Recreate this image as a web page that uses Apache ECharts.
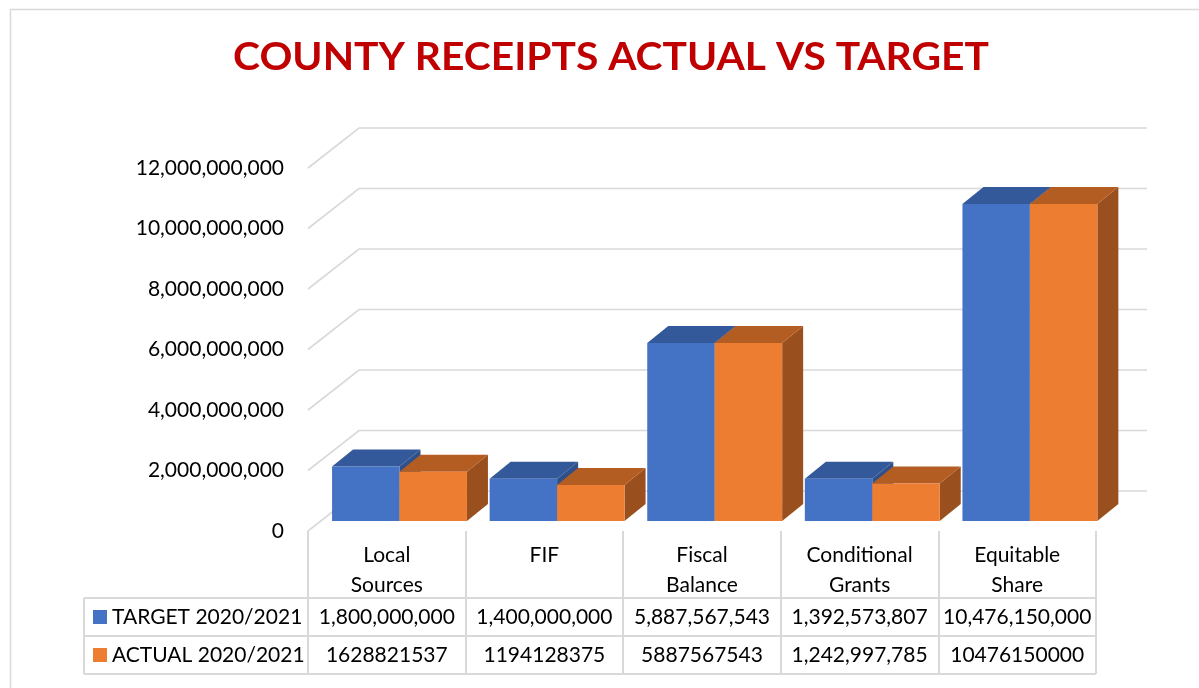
<!DOCTYPE html>
<html>
<head>
<meta charset="utf-8">
<title>County receipts</title>
<script src="https://cdn.jsdelivr.net/npm/echarts@6/dist/echarts.min.js"></script>
<style>
  html, body { margin: 0; padding: 0; background: #fff; }
  #chart { width: 1199px; height: 688px; }
</style>
</head>
<body>
<div id="chart"></div>
<script>
// chart data
const categories = ['Local\nSources', 'FIF', 'Fiscal\nBalance', 'Conditional\nGrants', 'Equitable\nShare'];
const targetValues = [1800000000, 1400000000, 5887567543, 1392573807, 10476150000];
const actualValues = [1628821537, 1194128375, 5887567543, 1242997785, 10476150000];
const seriesNames = ['TARGET 2020/2021', 'ACTUAL 2020/2021'];
const yTicks = [0, 2000000000, 4000000000, 6000000000, 8000000000, 10000000000, 12000000000];
// cells of the actual row that the sheet shows with separators
const actualCommaCells = [3];

const FONT = 'Lato, "Open Sans", sans-serif';
const GRID = { left: 308, top: 168, width: 788, height: 363 };
// depth of the plot box (front -> back wall) and of the bars
const WALL = [51, -40];
const BAR_OFF = [12.7, -10];
const BAR_DEPTH = [21, -17];

const colors = [
    { front: '#4472C4', top: '#34599A', side: '#2F5089' },
    { front: '#ED7D31', top: '#B45D22', side: '#9A4F1E' }
];

const fmt = v => v.toLocaleString('en-US');

function wallItem(params, api) {
    const cs = params.coordSys;
    const y = api.coord([0, api.value(1)])[1];
    return {
        type: 'polyline',
        shape: { points: [[cs.x, y], [cs.x + WALL[0], y + WALL[1]], [cs.x + cs.width + WALL[0], y + WALL[1]]] },
        style: { stroke: '#d9d9d9', lineWidth: 1.6, fill: null }
    };
}

function barItem(s) {
    return function (params, api) {
        const base = api.coord([api.value(0), 0]);
        const top = api.coord([api.value(0), api.value(1)]);
        const band = api.size([1, 0])[0];
        const w = band * 0.428;
        const x0 = base[0] + BAR_OFF[0] - w + s * w;
        const x1 = x0 + w;
        const yb = base[1] + BAR_OFF[1];
        const yt = top[1] + BAR_OFF[1];
        const dx = BAR_DEPTH[0], dy = BAR_DEPTH[1];
        const c = colors[s];
        return {
            type: 'group',
            children: [
                { type: 'polygon', shape: { points: [[x1, yt], [x1 + dx, yt + dy], [x1 + dx, yb + dy], [x1, yb]] }, style: { fill: c.side } },
                { type: 'polygon', shape: { points: [[x0, yt], [x1, yt], [x1 + dx, yt + dy], [x0 + dx, yt + dy]] }, style: { fill: c.top } },
                { type: 'rect', shape: { x: x0, y: yt, width: w, height: yb - yt }, style: { fill: c.front } }
            ]
        };
    };
}

// table under the plot (legend + values)
function tableGraphics() {
    const g = [];
    const band = GRID.width / categories.length;
    const right = GRID.left + GRID.width;
    const rowLines = [598, 636, 674];
    const line = (x1, y1, x2, y2) => ({
        type: 'line', shape: { x1: x1, y1: y1, x2: x2, y2: y2 },
        style: { stroke: '#d9d9d9', lineWidth: 2 }, silent: true
    });
    rowLines.forEach(y => g.push(line(84, y, right, y)));
    g.push(line(84, 598, 84, 674));

    const rows = [
        targetValues.map(fmt),
        actualValues.map((v, i) => actualCommaCells.indexOf(i) >= 0 ? fmt(v) : String(v))
    ];
    rows.forEach((cells, r) => {
        const cy = (rowLines[r] + rowLines[r + 1]) / 2;
        g.push({ type: 'rect', shape: { x: 93, y: cy - 7, width: 14, height: 14 }, style: { fill: colors[r].front } });
        g.push({ type: 'text', x: 112, y: cy, style: { text: seriesNames[r], font: '21px ' + FONT, fill: '#000', textVerticalAlign: 'middle' } });
        cells.forEach((t, i) => {
            g.push({ type: 'text', x: GRID.left + band * (i + 0.5), y: cy,
                style: { text: t, font: '21px ' + FONT, fill: '#000', textAlign: 'center', textVerticalAlign: 'middle' } });
        });
    });
    return g;
}

const myChart = echarts.init(document.getElementById('chart'));

const option = {
    animation: false,
    backgroundColor: '#fff',
    grid: GRID,
    xAxis: {
        type: 'category',
        data: categories,
        axisLine: { show: false },
        axisTick: { show: true, length: 143, lineStyle: { color: '#d9d9d9', width: 2 } },
        axisLabel: { interval: 0, margin: 9, fontFamily: FONT, fontSize: 21, lineHeight: 30, color: '#000', verticalAlign: 'top' },
        splitLine: { show: false }
    },
    yAxis: {
        type: 'value',
        min: 0,
        max: 12000000000,
        interval: 2000000000,
        axisLine: { show: false },
        axisTick: { show: false },
        splitLine: { show: false },
        axisLabel: { margin: 24, fontFamily: FONT, fontSize: 21, color: '#000', formatter: fmt }
    },
    graphic: [
        { type: 'rect', shape: { x: 10.5, y: 9.5, width: 1300, height: 800 }, style: { fill: null, stroke: '#d9d9d9', lineWidth: 1.5 }, silent: true },
        { type: 'text', x: 611, y: 57, scaleX: 1.045,
          style: { text: 'COUNTY RECEIPTS ACTUAL VS TARGET', font: 'bold 39px ' + FONT, fill: '#C00000', textAlign: 'center', textVerticalAlign: 'middle' } }
    ].concat(tableGraphics()),
    series: [
        { type: 'custom', name: 'walls', z: 1, renderItem: wallItem, data: yTicks.map(v => [0, v]), silent: true },
        { type: 'custom', name: seriesNames[0], z: 2, renderItem: barItem(0), data: targetValues.map((v, i) => [i, v]) },
        { type: 'custom', name: seriesNames[1], z: 3, renderItem: barItem(1), data: actualValues.map((v, i) => [i, v]) }
    ]
};

myChart.setOption(option);
</script>
</body>
</html>
